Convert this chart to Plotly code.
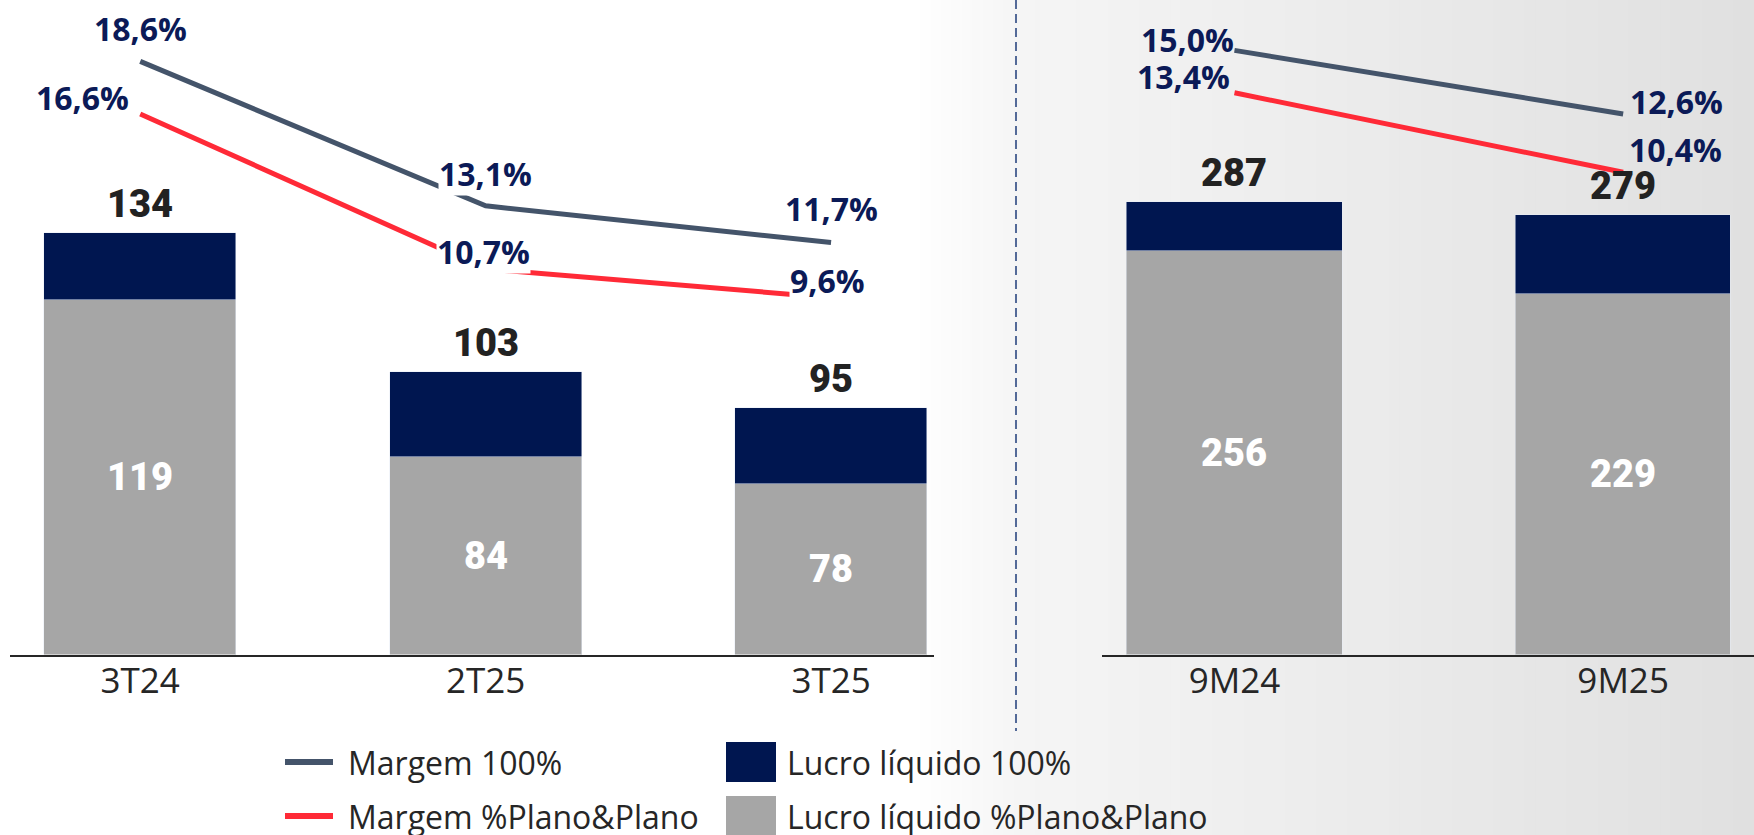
import plotly.graph_objects as go

# quarterly block
periods_q = ["3T24", "2T25", "3T25"]
lucro_total_q = [134, 103, 95]
lucro_pp_q = [119, 84, 78]
margem_100_q = [18.6, 13.1, 11.7]
margem_pp_q = [16.6, 10.7, 9.6]

# nine months block
periods_9m = ["9M24", "9M25"]
lucro_total_9m = [287, 279]
lucro_pp_9m = [256, 229]
margem_100_9m = [15.0, 12.6]
margem_pp_9m = [13.4, 10.4]

legend_labels = ["Margem 100%", "Margem %Plano&Plano",
                 "Lucro líquido 100%", "Lucro líquido %Plano&Plano"]

NAVY = "#001650"
GRAY = "#a6a6a6"
SLATE = "#44546a"
RED = "#ff2a37"
LABEL = "#0b1a57"
TEXT = "#262626"

W, H = 1754, 835
LEFT_YMIN, LEFT_YMAX = 40, 185.8
RIGHT_YMIN, RIGHT_YMAX = 0, 415.3


def fx(x):
    return x / W


def fy(y):
    return 1 - y / H


def pct(v):
    return f"{v:.1f}%".replace(".", ",")


fig = go.Figure()

# stacked bars: grey share + navy remainder
fig.add_trace(go.Bar(x=periods_q, y=lucro_pp_q, marker_color=GRAY, width=0.556,
                     xaxis="x", yaxis="y", showlegend=False, hoverinfo="skip"))
fig.add_trace(go.Bar(x=periods_q, y=[t - p for t, p in zip(lucro_total_q, lucro_pp_q)],
                     marker_color=NAVY, width=0.556, xaxis="x", yaxis="y",
                     showlegend=False, hoverinfo="skip"))
fig.add_trace(go.Bar(x=periods_9m, y=lucro_pp_9m, marker_color=GRAY, width=0.555,
                     xaxis="x2", yaxis="y2", showlegend=False, hoverinfo="skip"))
fig.add_trace(go.Bar(x=periods_9m, y=[t - p for t, p in zip(lucro_total_9m, lucro_pp_9m)],
                     marker_color=NAVY, width=0.555, xaxis="x2", yaxis="y2",
                     showlegend=False, hoverinfo="skip"))

# margin lines
for xs, ys, col, xa, ya in [
    (periods_q, margem_100_q, SLATE, "x", "y3"),
    (periods_q, margem_pp_q, RED, "x", "y3"),
    (periods_9m, margem_100_9m, SLATE, "x2", "y4"),
    (periods_9m, margem_pp_9m, RED, "x2", "y4"),
]:
    fig.add_trace(go.Scatter(x=xs, y=ys, mode="lines", line=dict(color=col, width=5),
                             xaxis=xa, yaxis=ya, showlegend=False, hoverinfo="skip"))

ann = []

# totals above bars
for xs, tots, yr in [(periods_q, lucro_total_q, "y"), (periods_9m, lucro_total_9m, "y2")]:
    for x, t in zip(xs, tots):
        ann.append(dict(x=x, y=t, xref="x" if yr == "y" else "x2", yref=yr,
                        text=str(t), showarrow=False, yanchor="middle", yshift=29,
                        font=dict(family="Roboto", size=38, color="#222222", weight=900)))

# values inside grey bars
for xs, vals, yr, ymin in [(periods_q, lucro_pp_q, "y", LEFT_YMIN),
                           (periods_9m, lucro_pp_9m, "y2", RIGHT_YMIN)]:
    for x, v in zip(xs, vals):
        ann.append(dict(x=x, y=(v + ymin) / 2, xref="x" if yr == "y" else "x2", yref=yr,
                        text=str(v), showarrow=False, yanchor="middle",
                        font=dict(family="Roboto", size=38, color="white", weight=900)))

# percentage labels (offsets in px)
pct_font = dict(family="Open Sans", size=32, color=LABEL, weight=700)
left_off_100 = [(0, 33), (0, 32), (0, 34)]
left_off_pp = [(-58, 16), (-2, 17), (-4, 17)]
right_off_100 = [(-47, 11), (53, 12)]
right_off_pp = [(-51, 16), (52, 23)]
for xs, vals, offs, xr, yr, bg in [
    (periods_q, margem_100_q, left_off_100, "x", "y3", "white"),
    (periods_q, margem_pp_q, left_off_pp, "x", "y3", "white"),
    (periods_9m, margem_100_9m, right_off_100, "x2", "y4", None),
    (periods_9m, margem_pp_9m, right_off_pp, "x2", "y4", None),
]:
    for x, v, (dx, dy) in zip(xs, vals, offs):
        a = dict(x=x, y=v, xref=xr, yref=yr, text=pct(v), showarrow=False,
                 xanchor="center", yanchor="middle", xshift=dx, yshift=dy,
                 font=pct_font, borderpad=0)
        if bg:
            a["bgcolor"] = bg
        ann.append(a)

# manual legend
shapes = []
leg_font = dict(family="Open Sans", size=32, color=TEXT)
for i, (lab, col) in enumerate(zip(legend_labels[:2], [SLATE, RED])):
    yc = [762, 816][i]
    shapes.append(dict(type="line", xref="paper", yref="paper", x0=fx(285), x1=fx(333),
                       y0=fy(yc), y1=fy(yc), line=dict(color=col, width=6)))
    ann.append(dict(x=fx(346), y=fy(yc), xref="paper", yref="paper", text=lab,
                    showarrow=False, xanchor="left", yanchor="middle", font=leg_font))
for i, (lab, col) in enumerate(zip(legend_labels[2:], [NAVY, GRAY])):
    yc = [762, 816][i]
    shapes.append(dict(type="rect", xref="paper", yref="paper", x0=fx(726), x1=fx(776),
                       y0=fy(yc + 20), y1=fy(yc - 20), fillcolor=col, line=dict(width=0)))
    ann.append(dict(x=fx(785), y=fy(yc), xref="paper", yref="paper", text=lab,
                    showarrow=False, xanchor="left", yanchor="middle", font=leg_font))

# background gradient on the right part
bg_shapes = []
x_start, x_mid, x_end = 920, 1020, W
n = 80
for k in range(n):
    xa = x_start + (x_end - x_start) * k / n
    xb = x_start + (x_end - x_start) * (k + 1) / n + 1
    xm = (xa + xb) / 2
    if xm < x_mid:
        c = 255 - (255 - 245) * (xm - x_start) / (x_mid - x_start)
    else:
        c = 245 - (245 - 224) * (xm - x_mid) / (x_end - x_mid)
    c = int(round(c))
    bg_shapes.append(dict(type="rect", xref="paper", yref="paper", x0=fx(xa), x1=min(fx(xb), 1),
                          y0=0, y1=1, fillcolor=f"rgb({c},{c},{c})", line=dict(width=0),
                          layer="below"))

# dashed separator
shapes.append(dict(type="line", xref="paper", yref="paper", x0=fx(1016), x1=fx(1016),
                   y0=fy(0), y1=fy(731), line=dict(color="#1f3c7a", width=1.5, dash="9px,5px")))

tickfont = dict(family="Open Sans", size=35, color=TEXT)
ydom = [fy(654.5), 1]

fig.update_layout(
    width=W, height=H,
    margin=dict(l=0, r=0, t=0, b=0, pad=0),
    paper_bgcolor="white", plot_bgcolor="rgba(0,0,0,0)",
    barmode="stack", bargap=0,
    xaxis=dict(domain=[fx(10), fx(934)], range=[-0.377, 2.298], type="category",
               showline=True, linecolor=TEXT, linewidth=2, ticks="", showgrid=False,
               tickfont=tickfont, anchor="y", ticklabelstandoff=-6),
    yaxis=dict(domain=ydom, range=[LEFT_YMIN, LEFT_YMAX], visible=False, anchor="x"),
    yaxis3=dict(range=[-3.99, 20.94], overlaying="y", anchor="x", visible=False),
    xaxis2=dict(domain=[fx(1101.7), 1], range=[-0.3416, 1.3367], type="category",
                showline=True, linecolor=TEXT, linewidth=2, ticks="", showgrid=False,
                tickfont=tickfont, anchor="y2", ticklabelstandoff=-6),
    yaxis2=dict(domain=ydom, range=[RIGHT_YMIN, RIGHT_YMAX], visible=False, anchor="x2"),
    yaxis4=dict(range=[-7.79, 16.9], overlaying="y2", anchor="x2", visible=False),
    shapes=bg_shapes + shapes,
    annotations=ann,
)

fig.write_html("out.html", config={"displayModeBar": False},
               post_script="document.body.style.margin='0';")
